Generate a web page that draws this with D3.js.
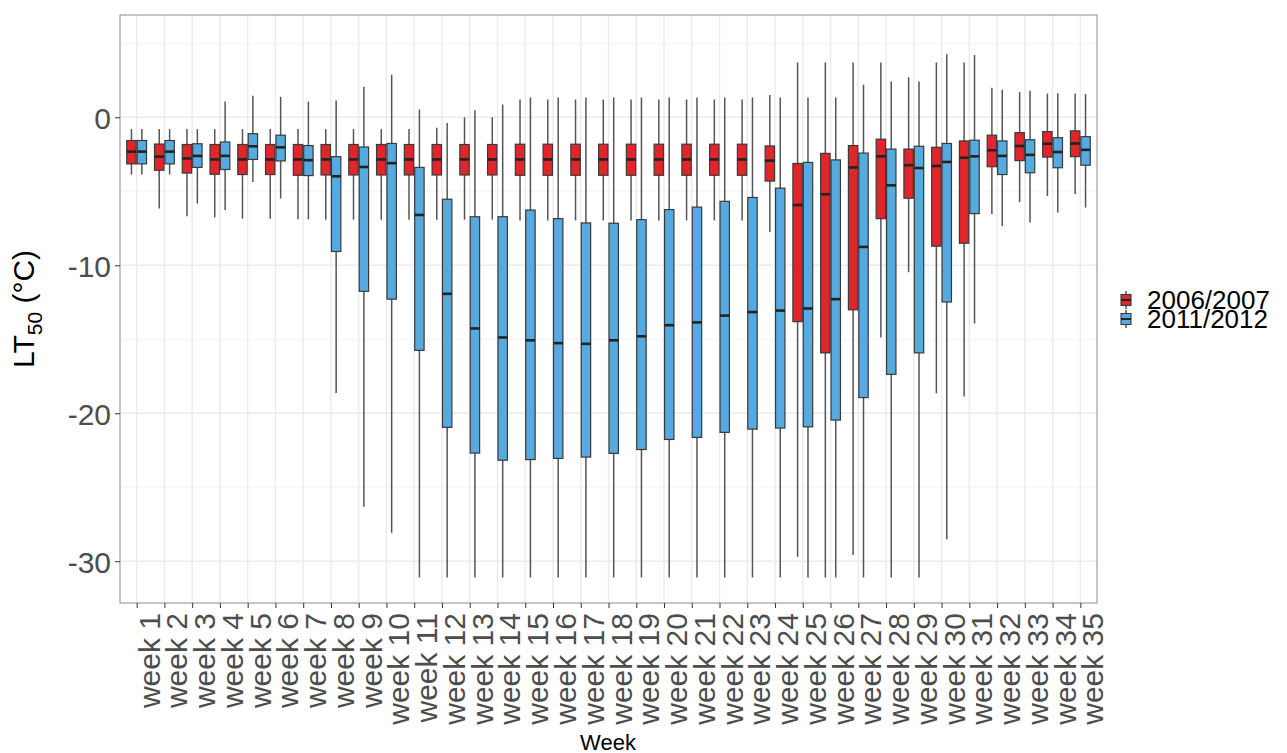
<!DOCTYPE html>
<html>
<head>
<meta charset="utf-8">
<script src="https://cdn.jsdelivr.net/npm/d3@7"></script>
<style>
body { margin: 0; background: #fff; }
text { font-family: "Liberation Sans", Arial, sans-serif; }
</style>
</head>
<body>
<svg id="chart" width="1287" height="753"></svg>
<script>
var weeks = d3.range(1, 36).map(function(i) { return "week " + i; });
var seasons = ["2006/2007", "2011/2012"];
var colours = ["#E0252B", "#55AADF"];

// 2006/2007 season: whisker top, Q3, median, Q1, whisker bottom
var redMax = [-0.8,-0.8,-0.8,-0.8,-0.8,-0.8,-0.8,-0.8,-0.8,-0.8,-0.8,-0.7,0.0,0.0,1.2,1.2,1.2,1.2,1.2,1.2,1.2,1.2,1.2,1.5,3.7,3.7,3.7,3.7,2.7,3.7,3.7,2.0,1.7,1.6,1.6];
var redQ3 = [-1.57,-1.81,-1.84,-1.84,-1.84,-1.84,-1.84,-1.84,-1.84,-1.84,-1.84,-1.84,-1.84,-1.84,-1.82,-1.82,-1.82,-1.82,-1.82,-1.82,-1.82,-1.82,-1.82,-1.94,-3.12,-2.44,-1.91,-1.48,-2.15,-2.03,-1.60,-1.21,-1.04,-0.97,-0.92];
var redMed = [-2.32,-2.66,-2.78,-2.85,-2.85,-2.85,-2.85,-2.85,-2.85,-2.85,-2.85,-2.85,-2.85,-2.85,-2.85,-2.85,-2.85,-2.85,-2.85,-2.85,-2.85,-2.85,-2.85,-2.93,-5.93,-5.20,-3.39,-2.64,-3.24,-3.29,-2.73,-2.23,-1.94,-1.79,-1.77];
var redQ1 = [-3.15,-3.58,-3.77,-3.85,-3.87,-3.87,-3.92,-3.90,-3.90,-3.90,-3.90,-3.90,-3.90,-3.90,-3.92,-3.92,-3.92,-3.92,-3.92,-3.92,-3.92,-3.92,-3.92,-4.31,-13.81,-15.92,-13.01,-6.85,-5.47,-8.71,-8.51,-3.34,-2.93,-2.69,-2.66];
var redMin = [-3.87,-6.17,-6.68,-6.77,-6.85,-6.85,-6.89,-6.92,-6.92,-6.92,-6.92,-6.92,-6.92,-6.92,-6.97,-6.97,-6.97,-6.97,-6.97,-6.97,-6.97,-6.97,-6.97,-7.76,-29.7,-31.1,-29.58,-14.88,-10.47,-18.65,-18.87,-6.53,-5.73,-5.32,-5.18];

// 2011/2012 season
var blueMax = [-0.8,-0.8,-0.8,1.06,1.45,1.38,1.06,1.14,2.06,2.88,0.53,-0.39,0.48,0.87,1.33,1.33,1.33,1.33,1.33,1.33,1.33,1.33,1.33,1.33,1.33,1.33,2.20,2.42,2.42,4.26,4.21,1.86,1.79,1.62,1.57];
var blueQ3 = [-1.57,-1.57,-1.79,-1.67,-1.11,-1.21,-1.91,-2.66,-2.01,-1.77,-3.39,-5.54,-6.72,-6.72,-6.27,-6.85,-7.14,-7.16,-6.92,-6.24,-6.07,-5.68,-5.42,-4.79,-3.05,-2.88,-2.42,-2.15,-1.96,-1.77,-1.55,-1.60,-1.52,-1.38,-1.31];
var blueMed = [-2.32,-2.32,-2.61,-2.61,-1.96,-2.03,-2.90,-3.99,-3.36,-3.10,-6.60,-11.93,-14.27,-14.88,-15.07,-15.26,-15.31,-15.07,-14.80,-14.05,-13.86,-13.40,-13.16,-13.06,-12.92,-12.29,-8.76,-4.60,-3.43,-3.02,-2.64,-2.61,-2.54,-2.35,-2.20];
var blueQ1 = [-3.15,-3.15,-3.39,-3.53,-2.85,-2.95,-3.94,-9.07,-11.76,-12.29,-15.75,-20.95,-22.69,-23.17,-23.13,-23.05,-22.96,-22.71,-22.45,-21.77,-21.63,-21.29,-21.07,-21.00,-20.92,-20.46,-18.94,-17.37,-15.92,-12.48,-6.51,-3.87,-3.75,-3.41,-3.24];
var blueMin = [-3.87,-3.87,-5.83,-6.27,-4.38,-5.49,-6.89,-18.63,-26.32,-28.08,-31.1,-31.1,-31.1,-31.1,-31.1,-31.1,-31.1,-31.1,-31.1,-31.1,-31.1,-31.1,-31.1,-31.1,-31.1,-31.1,-31.1,-31.1,-31.1,-28.52,-13.93,-7.35,-7.11,-6.43,-6.10];

var yTicks = [0, -10, -20, -30];
var yMinor = [5, -5, -15, -25];

var panel = {left: 120, top: 15, right: 1097, bottom: 603};

var boxes = [];
weeks.forEach(function(w, i) {
	boxes.push({week: w, season: seasons[0], max: redMax[i], q3: redQ3[i], med: redMed[i], q1: redQ1[i], min: redMin[i]});
	boxes.push({week: w, season: seasons[1], max: blueMax[i], q3: blueQ3[i], med: blueMed[i], q1: blueQ1[i], min: blueMin[i]});
});

var svg = d3.select("#chart");

var x = d3.scalePoint()
.domain(weeks)
.range([panel.left, panel.right])
.padding(0.6);

var dodge = d3.scaleBand()
.domain(seasons)
.range([-10.4, 10.4]);

var y = d3.scaleLinear()
.domain([-32.82, 6.91])
.range([panel.bottom, panel.top]);

var colour = d3.scaleOrdinal().domain(seasons).range(colours);

// grid
var grid = svg.append("g").attr("class", "grid");
grid.selectAll("line.minor").data(yMinor).enter()
.append("line")
.attr("x1", panel.left).attr("x2", panel.right)
.attr("y1", function(d) { return y(d); })
.attr("y2", function(d) { return y(d); })
.attr("stroke", "#f2f2f2").attr("stroke-width", 0.8);
grid.selectAll("line.major").data(yTicks).enter()
.append("line")
.attr("x1", panel.left).attr("x2", panel.right)
.attr("y1", function(d) { return y(d); })
.attr("y2", function(d) { return y(d); })
.attr("stroke", "#ebebeb").attr("stroke-width", 1.4);
grid.selectAll("line.vert").data(weeks).enter()
.append("line")
.attr("x1", function(d) { return x(d); })
.attr("x2", function(d) { return x(d); })
.attr("y1", panel.top).attr("y2", panel.bottom)
.attr("stroke", "#ebebeb").attr("stroke-width", 1.4);

// boxes
var halfW = dodge.bandwidth()/2;
var g = svg.append("g").attr("class", "boxes")
.selectAll("g").data(boxes).enter()
.append("g")
.attr("transform", function(d) {
	return "translate(" + (x(d.week) + dodge(d.season) + halfW) + ",0)";
});

g.append("line")
.attr("x1", 0).attr("x2", 0)
.attr("y1", function(d) { return y(d.max); })
.attr("y2", function(d) { return y(d.min); })
.attr("stroke", "#555").attr("stroke-width", 1.5);

g.append("rect")
.attr("x", -halfW + 0.5)
.attr("width", 2*halfW - 1)
.attr("y", function(d) { return y(d.q3); })
.attr("height", function(d) { return y(d.q1) - y(d.q3); })
.attr("fill", function(d) { return colour(d.season); })
.attr("stroke", "#3a3a3a").attr("stroke-width", 1.2);

g.append("line")
.attr("x1", -halfW + 0.5).attr("x2", halfW - 0.5)
.attr("y1", function(d) { return y(d.med); })
.attr("y2", function(d) { return y(d.med); })
.attr("stroke", "#222").attr("stroke-width", 2.6);

// panel border
svg.append("rect")
.attr("x", panel.left).attr("y", panel.top)
.attr("width", panel.right - panel.left)
.attr("height", panel.bottom - panel.top)
.attr("fill", "none")
.attr("stroke", "#8c8c8c").attr("stroke-width", 1);

// axes
var yAxis = svg.append("g")
.attr("transform", "translate(" + panel.left + ",0)")
.call(d3.axisLeft(y).tickValues(yTicks).tickSize(5).tickPadding(4)
	.tickFormat(function(d) { return String(d); }));
yAxis.select(".domain").remove();
yAxis.selectAll("line").attr("stroke", "#333");
yAxis.selectAll("text")
.attr("fill", "#4d4d4d")
.style("font-size", "30px")
.attr("dy", "0.36em");

var xAxis = svg.append("g")
.attr("transform", "translate(0," + panel.bottom + ")")
.call(d3.axisBottom(x).tickSize(5));
xAxis.select(".domain").remove();
xAxis.selectAll("line").attr("stroke", "#333");
xAxis.selectAll("text")
.attr("fill", "#4d4d4d")
.style("font-size", "30px")
.attr("text-anchor", "end")
.attr("transform", "rotate(-90)")
.attr("x", -10)
.attr("y", 22.5)
.attr("dy", null);

// axis titles
svg.append("text")
.attr("x", 608).attr("y", 750)
.attr("text-anchor", "middle")
.style("font-size", "22px")
.text("Week");

var yTitle = svg.append("text")
.attr("transform", "translate(34," + (panel.top + panel.bottom)/2 + ") rotate(-90)")
.attr("text-anchor", "middle")
.style("font-size", "30px");
yTitle.append("tspan").text("LT");
yTitle.append("tspan").attr("dy", 8).style("font-size", "21px").text("50");
yTitle.append("tspan").attr("dy", -8).text(" (\u00B0C)");

// legend
var legend = svg.append("g")
.attr("transform", "translate(1126,300)");
var key = legend.selectAll("g").data(seasons).enter()
.append("g")
.attr("transform", function(d, i) { return "translate(0," + i*19 + ")"; });
key.append("line")
.attr("y1", -9).attr("y2", 9)
.attr("stroke", "#555").attr("stroke-width", 1.5);
key.append("rect")
.attr("x", -5).attr("y", -5.5)
.attr("width", 10).attr("height", 11)
.attr("fill", function(d) { return colour(d); })
.attr("stroke", "#3a3a3a").attr("stroke-width", 1.1);
key.append("line")
.attr("x1", -5).attr("x2", 5)
.attr("stroke", "#222").attr("stroke-width", 2);
key.append("text")
.attr("x", 21).attr("dy", "0.36em")
.style("font-size", "26px")
.text(function(d) { return d; });
</script>
</body>
</html>
